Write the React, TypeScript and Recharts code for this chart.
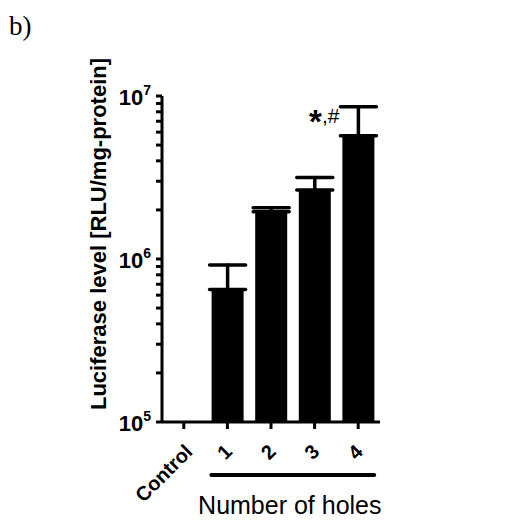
import React from 'react';
import { BarChart, Bar, XAxis, YAxis, ErrorBar, LabelList } from 'recharts';

const categories = ['Control', '1', '2', '3', '4'];
const meanValues = [1.0e5, 6.5e5, 1.95e6, 2.65e6, 5.7e6];
const errorUpper = [0, 2.7e5, 1.1e5, 5.1e5, 2.9e6];
const notes = ['', '', '', '', '*,#'];
const yTicks = [
  1e5, 2e5, 3e5, 4e5, 5e5, 6e5, 7e5, 8e5, 9e5,
  1e6, 2e6, 3e6, 4e6, 5e6, 6e6, 7e6, 8e6, 9e6, 1e7,
];
const majorTicks = [1e5, 1e6, 1e7];

const data = categories.map((name, i) => ({
  name,
  value: meanValues[i],
  err: [0, errorUpper[i]],
  note: notes[i],
}));

const FONT = 'Arial, "Liberation Sans", Helvetica, sans-serif';

// labels only on decades, minor ticks keep just their tick line
const YTick = (props: any) => {
  const { x, y, payload } = props;
  if (!majorTicks.includes(payload.value)) return <g />;
  const exp = Math.round(Math.log10(payload.value));
  return (
    <text x={x} y={y + 9} textAnchor="end" fontFamily={FONT} fontWeight="bold" fill="#000">
      <tspan fontSize={22}>10</tspan>
      <tspan fontSize={14} dy={-10}>{exp}</tspan>
    </text>
  );
};

const XTick = (props: any) => {
  const { x, y, payload, index } = props;
  const half = 21.8;
  let line = null;
  if (index >= 1) {
    const x1 = index === 1 ? x - 16 : x - half;
    const x2 = index === 4 ? x + 16 : x + half;
    line = <line x1={x1} x2={x2} y1={y + 45} y2={y + 45} stroke="#000" strokeWidth={4} strokeLinecap="round" />;
  }
  const isWord = index === 0;
  const ax = x + (isWord ? 10 : 6);
  const ay = y + 23;
  return (
    <g>
      <text
        x={ax}
        y={ay}
        textAnchor="end"
        transform={`rotate(-45 ${ax} ${ay})`}
        fontFamily={FONT}
        fontWeight="bold"
        fontSize={20}
        fill="#000"
      >
        {payload.value}
      </text>
      {line}
    </g>
  );
};

const NoteLabel = (props: any) => {
  const { x, y, value } = props;
  if (!value) return null;
  const star = value.slice(0, 1);
  const rest = value.slice(1);
  return (
    <text x={x - 3} y={y - 3} textAnchor="end" fontFamily={FONT} fill="#000">
      <tspan fontSize={33} fontWeight="bold">{star}</tspan>
      <tspan fontSize={21} dy={-10}>{rest}</tspan>
    </text>
  );
};

const YLabel = (props: any) => {
  const { viewBox } = props;
  const cx = viewBox.x + 106;
  const cy = 234;
  return (
    <text
      x={cx}
      y={cy}
      textAnchor="middle"
      transform={`rotate(-90 ${cx} ${cy})`}
      fontFamily={FONT}
      fontWeight="bold"
      fontSize={22}
      fill="#000"
    >
      Luciferase level [RLU/mg-protein]
    </text>
  );
};

const XLabel = (props: any) => {
  const { viewBox } = props;
  const cx = viewBox.x + viewBox.width * 0.6 - 3;
  return (
    <text x={cx} y={viewBox.y + 92} textAnchor="middle" fontFamily={FONT} fontSize={25} fill="#000">
      Number of holes
    </text>
  );
};

export default function App() {
  return (
    <div style={{ position: 'absolute', left: 0, top: 0, width: 522, height: 528, background: '#fff' }}>
      <div
        style={{
          position: 'absolute',
          left: 9,
          top: 13,
          fontFamily: '"Times New Roman", "Liberation Serif", serif',
          fontSize: 27,
          lineHeight: '27px',
        }}
      >
        b)
      </div>
      <BarChart
        width={522}
        height={528}
        data={data}
        margin={{ top: 96, right: 142, bottom: 0, left: 0 }}
        barSize={32}
      >
        <XAxis
          dataKey="name"
          height={106}
          axisLine={{ stroke: '#000', strokeWidth: 3 }}
          tickLine={{ stroke: '#000', strokeWidth: 3 }}
          tickSize={7}
          tickMargin={1}
          tick={<XTick />}
          interval={0}
          label={<XLabel />}
        />
        <XAxis
          xAxisId="top"
          dataKey="name"
          orientation="top"
          height={0}
          tick={false}
          tickLine={false}
          axisLine={{ stroke: '#000', strokeWidth: 3 }}
        />
        <YAxis
          type="number"
          scale="log"
          domain={[1e5, 1e7]}
          ticks={yTicks}
          interval={0}
          width={162}
          axisLine={{ stroke: '#000', strokeWidth: 3 }}
          tickLine={{ stroke: '#000', strokeWidth: 3 }}
          tickSize={6}
          tickMargin={5}
          tick={<YTick />}
          allowDataOverflow
          label={<YLabel />}
        />
        <YAxis
          yAxisId="right"
          orientation="right"
          width={0}
          tick={false}
          tickLine={false}
          axisLine={{ stroke: '#000', strokeWidth: 3 }}
        />
        <Bar dataKey="value" fill="#000" isAnimationActive={false}>
          <ErrorBar dataKey="err" width={18} stroke="#000" strokeWidth={3.5} strokeLinecap="round" isAnimationActive={false} />
          <LabelList dataKey="note" content={<NoteLabel />} />
        </Bar>
      </BarChart>
    </div>
  );
}
